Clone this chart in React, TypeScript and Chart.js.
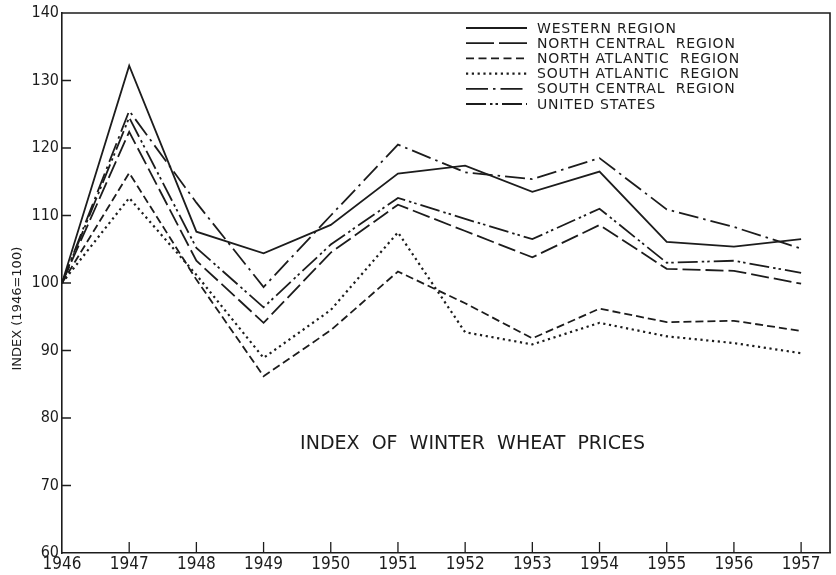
import React, { useEffect, useRef } from "react";
import { Chart, registerables } from "chart.js";

Chart.register(...registerables);

const years = [1946, 1947, 1948, 1949, 1950, 1951, 1952, 1953, 1954, 1955, 1956, 1957];
const yTicks = [60, 70, 80, 90, 100, 110, 120, 130, 140];

const western = [100, 132.2, 107.6, 104.4, 108.6, 116.2, 117.4, 113.5, 116.5, 106.1, 105.4, 106.5];
const northCentral = [100, 122.4, 103.3, 94.1, 104.5, 111.6, 107.7, 103.8, 108.6, 102.1, 101.8, 99.9];
const northAtlantic = [100, 116.3, 100.5, 86.2, 93.0, 101.7, 97.0, 91.8, 96.2, 94.2, 94.4, 92.9];
const southAtlantic = [100, 112.6, 101.2, 88.9, 96.0, 107.5, 92.7, 90.9, 94.1, 92.1, 91.1, 89.6];
const southCentral = [100, 125.5, 111.9, 99.4, 110.0, 120.5, 116.4, 115.4, 118.5, 110.9, 108.3, 105.1];
const unitedStates = [100, 124.5, 105.2, 96.4, 105.7, 112.6, 109.5, 106.5, 111.0, 103.0, 103.3, 101.5];

const seriesLabels = [
  "WESTERN REGION",
  "NORTH CENTRAL  REGION",
  "NORTH ATLANTIC  REGION",
  "SOUTH ATLANTIC  REGION",
  "SOUTH CENTRAL  REGION",
  "UNITED STATES",
];
const seriesValues = [western, northCentral, northAtlantic, southAtlantic, southCentral, unitedStates];
const seriesDashes: number[][] = [
  [],
  [18, 5],
  [8, 4],
  [2.2, 3.6],
  [20, 5, 2.5, 5],
  [20, 4, 2.5, 3, 2.5, 4],
];
const legendDashes: number[][] = [
  [],
  [28, 5],
  [8, 4.5],
  [2.2, 3.6],
  [22, 5, 2.5, 5],
  [20, 4, 2.5, 3, 2.5, 4],
];

const chartTitle = "INDEX  OF  WINTER  WHEAT  PRICES";
const yAxisTitle = "INDEX (1946=100)";

const INK = "#1c1c1c";
const TICK_FONT = "'Liberation Sans Narrow', 'DejaVu Sans Condensed', 'DejaVu Sans', sans-serif";
const TEXT_FONT = "'DejaVu Sans', sans-serif";

const decorPlugin = {
  id: "decor",
  afterDraw(chart: any) {
    const ctx = chart.ctx as CanvasRenderingContext2D;
    const area = chart.chartArea;
    const xs = chart.scales.x;
    const ys = chart.scales.y;
    ctx.save();
    ctx.strokeStyle = INK;
    ctx.fillStyle = INK;
    // frame top & right
    ctx.lineWidth = 1.6;
    ctx.setLineDash([]);
    ctx.beginPath();
    ctx.moveTo(area.left, area.top);
    ctx.lineTo(area.right, area.top);
    ctx.lineTo(area.right, area.bottom);
    ctx.stroke();
    // inner ticks
    ctx.lineWidth = 1.3;
    ctx.beginPath();
    years.slice(1).forEach((yr) => {
      const px = xs.getPixelForValue(yr);
      ctx.moveTo(px, area.bottom);
      ctx.lineTo(px, area.bottom - 11);
    });
    yTicks.slice(1, -1).forEach((v) => {
      const py = ys.getPixelForValue(v);
      ctx.moveTo(area.left, py);
      ctx.lineTo(area.left + 9, py);
    });
    ctx.stroke();

    // legend
    const lx0 = area.left + 404;
    const lx1 = area.left + 465;
    const tx = area.left + 475;
    const ly0 = area.top + 15;
    const step = 15.2;
    ctx.font = `14px ${TEXT_FONT}`;
    (ctx as any).letterSpacing = "0.8px";
    ctx.textBaseline = "middle";
    ctx.textAlign = "left";
    seriesLabels.forEach((lab, i) => {
      const yy = ly0 + i * step;
      ctx.lineWidth = i === 3 ? 2.2 : 1.8;
      ctx.setLineDash(legendDashes[i]);
      ctx.beginPath();
      ctx.moveTo(lx0, yy);
      ctx.lineTo(lx1, yy);
      ctx.stroke();
      ctx.setLineDash([]);
      ctx.fillText(lab, tx, yy + 1);
    });

    // chart title
    (ctx as any).letterSpacing = "0px";
    ctx.font = `19px ${TEXT_FONT}`;
    ctx.textAlign = "center";
    ctx.fillText(chartTitle, xs.getPixelForValue(1952.11), ys.getPixelForValue(76.1));

    // y axis title
    ctx.font = `13px ${TEXT_FONT}`;
    ctx.translate(18, ys.getPixelForValue(96.2));
    ctx.rotate(-Math.PI / 2);
    ctx.textAlign = "center";
    ctx.fillText(yAxisTitle, 0, 0);
    ctx.restore();
  },
};

export default function App() {
  const ref = useRef<HTMLCanvasElement | null>(null);
  useEffect(() => {
    if (!ref.current) return;
    const chart = new Chart(ref.current, {
      type: "line",
      data: {
        datasets: seriesValues.map((vals, i) => ({
          label: seriesLabels[i],
          data: years.map((yr, j) => ({ x: yr, y: vals[j] })),
          borderColor: INK,
          borderWidth: i === 3 ? 2.2 : 1.8,
          borderDash: seriesDashes[i],
          pointRadius: 0,
          tension: 0,
          fill: false,
        })),
      },
      options: {
        animation: false,
        responsive: false,
        maintainAspectRatio: false,
        layout: { padding: { top: 13, right: 6, left: 0, bottom: 0 } },
        plugins: {
          legend: { display: false },
          tooltip: { enabled: false },
          title: { display: false },
        },
        scales: {
          x: {
            type: "linear",
            min: 1946,
            max: 1957.43,
            grid: { display: false, drawTicks: false },
            border: { display: true, color: INK, width: 1.6 },
            afterBuildTicks: (s: any) => {
              s.ticks = years.map((v) => ({ value: v }));
            },
            afterFit: (s: any) => {
              s.height = 22;
            },
            ticks: {
              color: INK,
              font: { family: TICK_FONT, size: 17 },
              padding: 1,
              maxRotation: 0,
              autoSkip: false,
              callback: (v: any) => String(v),
            },
          },
          y: {
            type: "linear",
            min: 60,
            max: 140,
            grid: { display: false, drawTicks: false },
            border: { display: true, color: INK, width: 1.6 },
            afterBuildTicks: (s: any) => {
              s.ticks = yTicks.map((v) => ({ value: v }));
            },
            afterFit: (s: any) => {
              s.width = 62;
            },
            ticks: {
              color: INK,
              font: { family: TICK_FONT, size: 16 },
              padding: 3,
              callback: (v: any) => String(v),
            },
          },
        },
      },
      plugins: [decorPlugin],
    });
    return () => chart.destroy();
  }, []);
  return (
    <div style={{ position: "fixed", left: 0, top: 0, width: 836, height: 575, background: "#fff" }}>
      <canvas ref={ref} width={836} height={575} style={{ width: 836, height: 575, display: "block" }} />
    </div>
  );
}
